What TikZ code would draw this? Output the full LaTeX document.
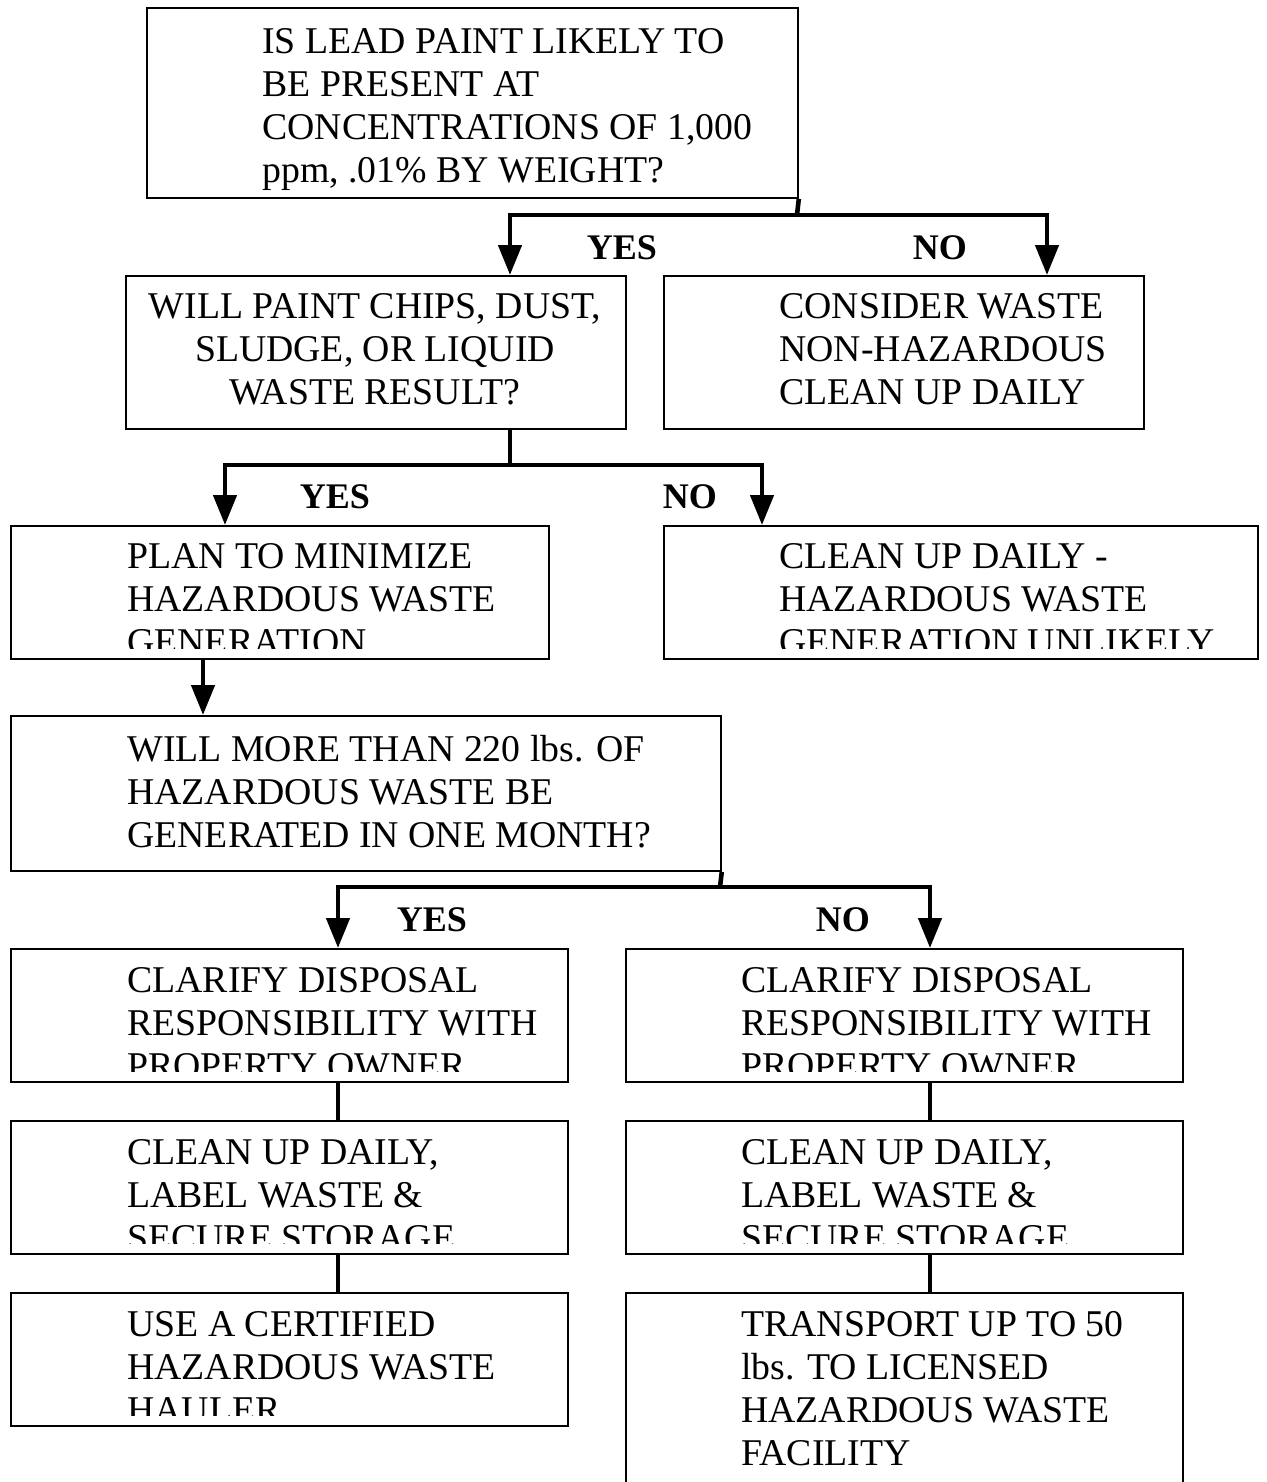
\documentclass[tikz,border=0pt]{standalone}
\usepackage{fontspec}
\setmainfont{Liberation Serif}
\usetikzlibrary{arrows.meta}

\tikzset{
  box/.style 2 args={
    rectangle, draw=black, line width=1.1pt,
    inner sep=0pt, anchor=north west,
    minimum width=#1, minimum height=#2
  },
  boxtext/.style={
    anchor=north west, inner sep=0pt, align=left,
    font=\fontsize{21.5}{24.45}\selectfont
  },
  answer/.style={font=\fontsize{20.5}{24}\selectfont\bfseries},
  link/.style={line width=2.6pt},
  arrow/.style={link, -{Triangle[length=0.6cm, width=0.46cm]}}
}

\begin{document}
\begin{tikzpicture}[x=0.02cm, y=-0.02cm]
  \useasboundingbox (0,0) rectangle (1267,1482);

  % First question
  \node[box={13.02cm}{3.8cm}] (lead) at (146,7) {};
  \node[boxtext] (leadtxt) at (262,28.3)
    {IS LEAD PAINT LIKELY TO\\ BE PRESENT AT\\ CONCENTRATIONS OF 1,000\\ ppm, .01\% BY WEIGHT?};

  % Second row
  \node[box={10cm}{3.06cm}] (chips) at (125,275) {};
  \node[boxtext, anchor=north, align=center] (chipstxt) at (375,293.3)
    {WILL PAINT CHIPS, DUST,\\ SLUDGE, OR LIQUID\\ WASTE RESULT?};
  \node[box={9.6cm}{3.06cm}] (nonhaz) at (663,275) {};
  \node[boxtext] (nonhaztxt) at (779,293.3)
    {CONSIDER WASTE\\ NON-HAZARDOUS\\ CLEAN UP DAILY};

  % Third row, text cut at the lower edge
  \node[box={10.76cm}{2.66cm}] (plan) at (10,525) {};
  \begin{scope}
    \clip (10,525) rectangle (548,648);
    \node[boxtext] (plantxt) at (127,543.3)
      {PLAN TO MINIMIZE\\ HAZARDOUS WASTE\\ GENERATION};
  \end{scope}
  \node[box={11.88cm}{2.66cm}] (unlikely) at (663,525) {};
  \begin{scope}
    \clip (663,525) rectangle (1257,648);
    \node[boxtext] (unlikelytxt) at (779,543.3)
      {CLEAN UP DAILY -\\ HAZARDOUS WASTE\\ GENERATION UNLIKELY};
  \end{scope}

  % Quantity question
  \node[box={14.2cm}{3.1cm}] (month) at (10,715) {};
  \node[boxtext] (monthtxt) at (127,735.3)
    {WILL MORE THAN 220 lbs. OF\\ HAZARDOUS WASTE BE\\ GENERATED IN ONE MONTH?};

  % Left column (YES)
  \node[box={11.14cm}{2.66cm}] (clarifyL) at (10,948) {};
  \node[box={11.14cm}{2.66cm}] (cleanL) at (10,1120) {};
  \node[box={11.14cm}{2.66cm}] (hauler) at (10,1292) {};
  \begin{scope}
    \clip (10,948) rectangle (567,1071);
    \node[boxtext] (clarifyLtxt) at (127,967.3)
      {CLARIFY DISPOSAL\\ RESPONSIBILITY WITH\\ PROPERTY OWNER};
  \end{scope}
  \begin{scope}
    \clip (10,1120) rectangle (567,1243);
    \node[boxtext] (cleanLtxt) at (127,1139.3)
      {CLEAN UP DAILY,\\ LABEL WASTE \&\\ SECURE STORAGE};
  \end{scope}
  \begin{scope}
    \clip (10,1292) rectangle (567,1415);
    \node[boxtext] (haulertxt) at (127,1311.3)
      {USE A CERTIFIED\\ HAZARDOUS WASTE\\ HAULER};
  \end{scope}

  % Right column (NO)
  \node[box={11.14cm}{2.66cm}] (clarifyR) at (625,948) {};
  \node[box={11.14cm}{2.66cm}] (cleanR) at (625,1120) {};
  \node[box={11.14cm}{4.2cm}] (transport) at (625,1292) {};
  \begin{scope}
    \clip (625,948) rectangle (1182,1071);
    \node[boxtext] (clarifyRtxt) at (741,967.3)
      {CLARIFY DISPOSAL\\ RESPONSIBILITY WITH\\ PROPERTY OWNER};
  \end{scope}
  \begin{scope}
    \clip (625,1120) rectangle (1182,1243);
    \node[boxtext] (cleanRtxt) at (741,1139.3)
      {CLEAN UP DAILY,\\ LABEL WASTE \&\\ SECURE STORAGE};
  \end{scope}
  \node[boxtext] (transporttxt) at (741,1311.3)
    {TRANSPORT UP TO 50\\ lbs. TO LICENSED\\ HAZARDOUS WASTE\\ FACILITY};

  % Branch points
  \coordinate (split1) at (797,215);
  \coordinate (yes1) at (510,275);
  \coordinate (no1) at (1047,275);
  \coordinate (split2) at (510,465);
  \coordinate (yes2) at (225,525);
  \coordinate (no2) at (762,525);
  \coordinate (down3) at (203,715);
  \coordinate (split3) at (720,887);
  \coordinate (yes3) at (338,948);
  \coordinate (no3) at (930,948);

  % Connectors
  \draw[link] (lead.south east) -- (split1);
  \draw[arrow] (split1) -| (yes1);
  \draw[arrow] (split1) -| (no1);
  \draw[link] (chips.south -| split2) -- (split2);
  \draw[arrow] (split2) -| (yes2);
  \draw[arrow] (split2) -| (no2);
  \draw[arrow] (plan.south -| down3) -- (down3);
  \draw[link] (month.south east) -- (split3);
  \draw[arrow] (split3) -| (yes3);
  \draw[arrow] (split3) -| (no3);
  \draw[link] (clarifyL.south -| yes3) -- (cleanL.north -| yes3);
  \draw[link] (cleanL.south -| yes3) -- (hauler.north -| yes3);
  \draw[link] (clarifyR.south -| no3) -- (cleanR.north -| no3);
  \draw[link] (cleanR.south -| no3) -- (transport.north -| no3);

  % YES / NO labels
  \node[answer] (yeslbl1) at (622,248) {YES};
  \node[answer] (nolbl1) at (940,248) {NO};
  \node[answer] (yeslbl2) at (335,497) {YES};
  \node[answer] (nolbl2) at (690,497) {NO};
  \node[answer] (yeslbl3) at (432,920) {YES};
  \node[answer] (nolbl3) at (843,920) {NO};
\end{tikzpicture}
\end{document}
